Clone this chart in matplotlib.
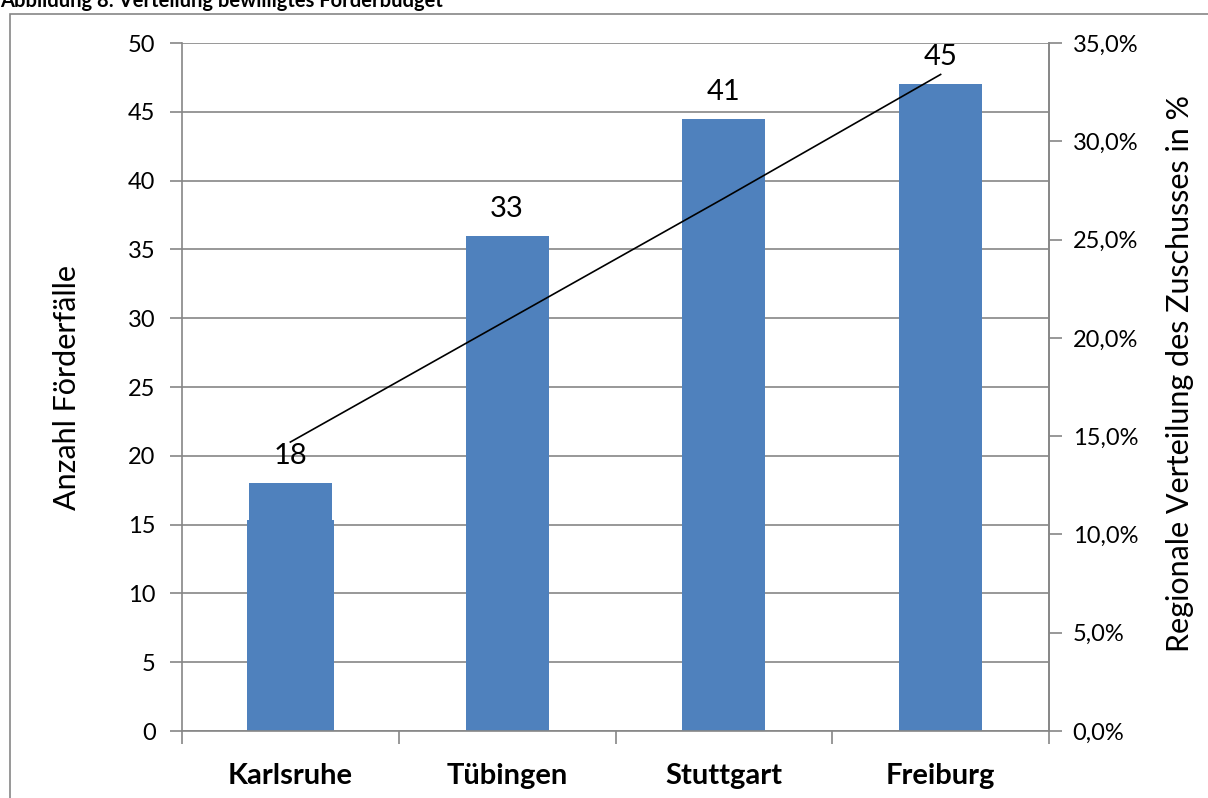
import matplotlib.pyplot as plt
import numpy as np

plt.rcParams['font.family'] = ['Lato', 'DejaVu Sans']

regions = ['Karlsruhe', 'Tübingen', 'Stuttgart', 'Freiburg']
faelle = [18, 36, 44.5, 47]
faelle_base = [15.3, 0, 0, 0]
anteil = [14.7, 20.9, 27.1, 33.4]
labels = ['18', '33', '41', '45']

bar_color = '#4F81BD'
grey = '#868686'

fig = plt.figure(figsize=(12.08, 7.98), dpi=100)
ax = fig.add_axes([182 / 1208, 1 - 731 / 798, (1049 - 182) / 1208, (731 - 43) / 798])

x = np.arange(len(regions))
ax.bar(x, faelle_base, width=0.40, color=bar_color, zorder=2)
ax.bar(x, faelle, width=0.383, color=bar_color, zorder=2)

for xi, v, lab in zip(x, faelle, labels):
    ax.annotate(lab, (xi, v), xytext=(0, 10), textcoords='offset points',
                ha='center', va='bottom', fontsize=21)

ax.set_xlim(-0.5, 3.5)
ax.set_ylim(0, 50)
ax.set_yticks(np.arange(0, 51, 5))
ax.yaxis.grid(True, color=grey, linewidth=1.2, zorder=0)
ax.set_axisbelow(True)
ax.set_xticks(x)
ax.set_xticklabels(regions, fontsize=21, fontweight='bold')
ax.set_xticks(np.arange(-0.5, 4, 1), minor=True)
ax.tick_params(axis='x', which='major', length=0, pad=23)
ax.tick_params(axis='x', which='minor', length=9, color=grey, width=1.2)
ax.tick_params(axis='y', length=9, color=grey, width=1.2, labelsize=17, pad=10)
ax.set_ylabel('Anzahl Förderfälle', fontsize=22, labelpad=34)
for side in ['left', 'bottom', 'right']:
    ax.spines[side].set_color(grey)
    ax.spines[side].set_linewidth(1.2)
ax.spines['top'].set_visible(False)

ax2 = ax.twinx()
ax2.plot(x, anteil, color='black', linewidth=1.2, zorder=3)
ax2.set_ylim(0, 35)
ax2.set_yticks(np.arange(0, 36, 5))
ax2.set_yticklabels([f'{v:.1f}%'.replace('.', ',') for v in np.arange(0, 36, 5)])
ax2.tick_params(axis='y', length=9, color=grey, width=1.2, labelsize=17, pad=8)
ax2.set_ylabel('Regionale Verteilung des Zuschusses in %', fontsize=22)
ax2.yaxis.set_label_coords(1.135, 0.52)
for side in ['left', 'bottom', 'top']:
    ax2.spines[side].set_visible(False)
ax2.spines['right'].set_color(grey)
ax2.spines['right'].set_linewidth(1.2)

# outer chart frame, cut off at right and bottom
fig.patches.append(plt.Rectangle((10 / 1208, -0.1), 1.2, 1 - 14 / 798 + 0.1,
                                 transform=fig.transFigure, fill=False,
                                 edgecolor=grey, linewidth=1.2))

fig.text(0, 1 - 7 / 798, 'Abbildung 8: Verteilung bewilligtes Förderbudget',
         ha='left', va='baseline', fontsize=14.5, fontweight='bold')

fig.savefig('out.png', dpi=100)
